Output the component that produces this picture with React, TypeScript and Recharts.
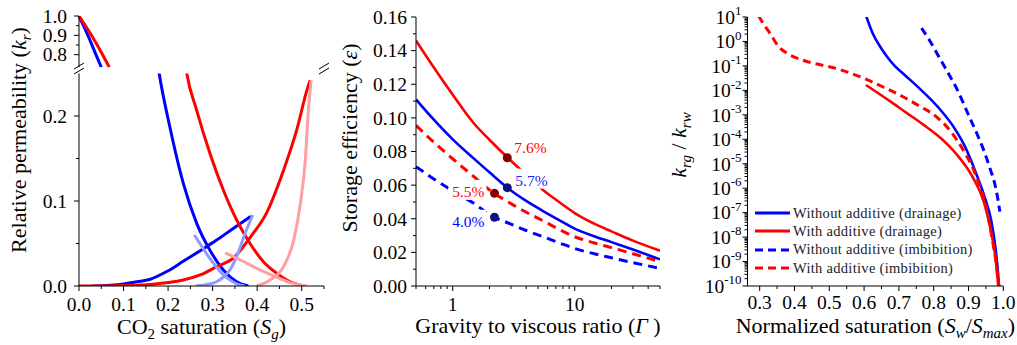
import React from "react";
import { LineChart, Line, XAxis, YAxis, Legend } from "recharts";

const W = 1017;
const H = 345;
const FONT = "Liberation Serif, Tinos, Times New Roman, DejaVu Serif, serif";
const INK = "#000";
const TICK_FS = 19.5;
const TITLE_FS = 22;

const BLUE = "#0000FF";
const RED = "#FF0000";
const LIGHT_BLUE = "#8C9BFF";
const PINK = "#FFA0A0";
const DARK_RED = "#870000";
const DARK_BLUE = "#12127D";

// ---- (a) relative permeability vs CO2 saturation, [Sg, kr]
const aUpperBlue = [[0, 1.0], [0.02, 0.9], [0.038, 0.8], [0.05, 0.735]];
const aUpperRed = [[0, 1.0], [0.028, 0.9], [0.053, 0.8], [0.068, 0.735]];
const aBlueWater = [[0.177, 0.26], [0.18, 0.25], [0.204, 0.187], [0.234, 0.121], [0.264, 0.074], [0.294, 0.042], [0.324, 0.0188], [0.354, 0.005], [0.38, 0]];
const aBlueGas = [[0.03, 0], [0.07, 0.001], [0.1, 0.0025], [0.13, 0.005], [0.16, 0.008], [0.197, 0.017], [0.234, 0.029], [0.272, 0.0415], [0.309, 0.054], [0.347, 0.068], [0.386, 0.082]];
const aLightBlueWater = [[0.259, 0.06], [0.275, 0.047], [0.291, 0.0345], [0.306, 0.024], [0.321, 0.0149], [0.338, 0.0075], [0.354, 0.0024], [0.372, 0]];
const aLightBlueGas = [[0.262, 0], [0.29, 0.002], [0.309, 0.005], [0.323, 0.01], [0.336, 0.0168], [0.354, 0.0345], [0.373, 0.062], [0.39, 0.0835]];
const aRedWater = [[0.239, 0.26], [0.242, 0.25], [0.264, 0.207], [0.294, 0.156], [0.324, 0.113], [0.354, 0.0776], [0.384, 0.05], [0.414, 0.0286], [0.444, 0.0149], [0.474, 0.005], [0.497, 0.001], [0.505, 0]];
const aRedGas = [[0, 0], [0.05, 0.0001], [0.1, 0.0006], [0.16, 0.0018], [0.2, 0.004], [0.234, 0.007], [0.272, 0.013], [0.309, 0.0227], [0.347, 0.033], [0.384, 0.057], [0.422, 0.087], [0.459, 0.136], [0.489, 0.184], [0.512, 0.231], [0.519, 0.242]];
const aPinkWater = [[0.328, 0.039], [0.362, 0.0306], [0.399, 0.0208], [0.437, 0.0118], [0.474, 0.0039], [0.512, 0]];
const aPinkGas = [[0.399, 0], [0.429, 0.007], [0.459, 0.0227], [0.482, 0.054], [0.497, 0.097], [0.508, 0.148], [0.515, 0.207], [0.521, 0.242]];

const aXTicks = [0, 0.05, 0.1, 0.15, 0.2, 0.25, 0.3, 0.35, 0.4, 0.45, 0.5, 0.55];
const aXLabels = [0, 0.1, 0.2, 0.3, 0.4, 0.5];
const aUpperYTicks = [0.8, 0.85, 0.9, 0.95, 1.0];
const aUpperYLabels = [0.8, 0.9, 1.0];
const aLowerYTicks = [0, 0.05, 0.1, 0.15, 0.2];
const aLowerYLabels = [0, 0.1, 0.2];

// ---- (b) storage efficiency vs gravity to viscous ratio
const bGamma = [0.5, 0.7, 1, 1.5, 2, 3, 4, 5.5, 7.5, 10, 15, 20, 30, 50];
const bRedSolid = [0.146, 0.13, 0.1138, 0.0965, 0.087, 0.0745, 0.0662, 0.0571, 0.0498, 0.0434, 0.0365, 0.0325, 0.027, 0.021];
const bBlueSolid = [0.111, 0.0989, 0.0872, 0.0756, 0.0676, 0.0568, 0.0506, 0.0446, 0.0391, 0.0341, 0.0292, 0.0261, 0.0217, 0.0159];
const bRedDashed = [0.0955, 0.0855, 0.0756, 0.0649, 0.0572, 0.049, 0.0439, 0.0388, 0.0335, 0.0293, 0.0253, 0.0228, 0.0192, 0.0145];
const bBlueDashed = [0.071, 0.0637, 0.0566, 0.049, 0.0425, 0.0368, 0.033, 0.0293, 0.0256, 0.0223, 0.0189, 0.0168, 0.0139, 0.0105];
const bMarkGamma = [2.8, 2.8, 2.2, 2.2];
const bMarkEff = [0.0763, 0.0585, 0.0551, 0.0409];
const bMarkText = ["7.6%", "5.7%", "5.5%", "4.0%"];

const bXTicks = [0.5, 0.6, 0.7, 0.8, 0.9, 1, 2, 3, 4, 5, 6, 7, 8, 9, 10, 20, 30, 40, 50];
const bXLabels = [1, 10];
const bYTicks = [0, 0.01, 0.02, 0.03, 0.04, 0.05, 0.06, 0.07, 0.08, 0.09, 0.1, 0.11, 0.12, 0.13, 0.14, 0.15, 0.16];
const bYLabels = [0, 0.02, 0.04, 0.06, 0.08, 0.1, 0.12, 0.14, 0.16];

// ---- (c) krg/krw vs normalized saturation
const cWithoutDrain = [[0.6, 20], [0.607, 10], [0.615, 4.8], [0.625, 2.1], [0.637, 1.0], [0.65, 0.5], [0.665, 0.25], [0.688, 0.1], [0.715, 0.0447], [0.765, 0.01], [0.812, 2.1e-3], [0.86, 2.8e-4], [0.89, 5.0e-5], [0.918, 5.6e-6], [0.946, 4.5e-7], [0.965, 5.0e-8], [0.978, 3.2e-9], [0.987, 1.4e-10], [0.989, 5e-11]];
const cWithDrain = [[0.605, 1.66e-2], [0.67, 3.98e-3], [0.72, 1.26e-3], [0.77, 3.98e-4], [0.82, 1.12e-4], [0.865, 2.5e-5], [0.91, 3.16e-6], [0.945, 2.5e-7], [0.965, 1.6e-8], [0.978, 1.26e-9], [0.986, 8e-11]];
const cWithoutImb = [[0.765, 3.5], [0.79, 1.0], [0.812, 0.28], [0.84, 0.056], [0.865, 0.0126], [0.9, 1e-3], [0.925, 1.6e-4], [0.945, 3.2e-5], [0.962, 6.3e-6], [0.975, 1.6e-6], [0.985, 3.2e-7], [0.99, 1.1e-7]];
const cWithImb = [[0.297, 11.2], [0.305, 7.1], [0.33, 2.1], [0.355, 0.6], [0.38, 0.32], [0.425, 0.17], [0.525, 0.075], [0.607, 0.028], [0.66, 0.0126], [0.712, 5.5e-3], [0.76, 2.24e-3], [0.808, 8.3e-4], [0.85, 2.0e-4], [0.885, 3.6e-5], [0.91, 7.9e-6], [0.933, 1.15e-6], [0.95, 2.0e-7], [0.962, 2.6e-8], [0.972, 4.0e-9], [0.981, 6.3e-10], [0.988, 8e-11]];
const cNames = ["Without additive (drainage)", "With additive (drainage)", "Without additive (imbibition)", "With additive (imbibition)"];

const cXTicks = [0.3, 0.35, 0.4, 0.45, 0.5, 0.55, 0.6, 0.65, 0.7, 0.75, 0.8, 0.85, 0.9, 0.95, 1.0];
const cXLabels = [0.3, 0.4, 0.5, 0.6, 0.7, 0.8, 0.9, 1.0];
const cDecades = [-10, -9, -8, -7, -6, -5, -4, -3, -2, -1, 0, 1];

// layout of the plot boxes
const PA = { left: 79, right: 324, upTop: 16, upBottom: 67.25, loTop: 73.5, bottom: 286 };
const PB = { left: 416, right: 660, top: 17, bottom: 286 };
const PC = { left: 747.5, right: 1003.3, top: 17, bottom: 286 };
const YW = 50;
const XH = 40;

const pts = (arr: number[][]) => arr.map(([x, y]) => ({ x, y }));
const zip = (xs: number[], ys: number[]) => xs.map((x, i) => ({ x, y: ys[i] }));

const cYTicks: number[] = [];
cDecades.forEach((d) => {
  cYTicks.push(10 ** d);
  if (d < 1) [2, 3, 4, 5, 6, 7, 8, 9].forEach((m) => cYTicks.push(m * 10 ** d));
});

function isMajor(v: number, majors: number[]) {
  return majors.some((m) => Math.abs(v - m) <= 1e-6 * Math.max(Math.abs(m), 1e-12));
}

const bottomTick = (majors: number[], fmt: (v: number) => string, dy: number) => (p: any) => {
  const v = p.payload.value;
  const major = isMajor(v, majors);
  return (
    <g>
      <line x1={p.x} x2={p.x} y1={p.y} y2={p.y + (major ? 5 : 3)} stroke={INK} />
      {major && (
        <text x={p.x} y={p.y + dy} textAnchor="middle" fontFamily={FONT} fontSize={TICK_FS} fill={INK}>
          {fmt(v)}
        </text>
      )}
    </g>
  );
};

const leftTick = (majors: number[], fmt: (v: number) => string, gap: number) => (p: any) => {
  const v = p.payload.value;
  const major = isMajor(v, majors);
  return (
    <g>
      <line x1={p.x - (major ? 5 : 3)} x2={p.x} y1={p.y} y2={p.y} stroke={INK} />
      {major && (
        <text x={p.x - gap} y={p.y + 6.8} textAnchor="end" fontFamily={FONT} fontSize={TICK_FS} fill={INK}>
          {fmt(v)}
        </text>
      )}
    </g>
  );
};

const logLeftTick = (p: any) => {
  const v = p.payload.value;
  const e = Math.round(Math.log10(v));
  const major = Math.abs(v - 10 ** e) < 1e-6 * 10 ** e;
  return (
    <g>
      <line x1={p.x - (major ? 5 : 3)} x2={p.x} y1={p.y} y2={p.y} stroke={INK} />
      {major && (
        <text x={p.x - 6} y={p.y + 6.8} textAnchor="end" fontFamily={FONT} fontSize={19.5} fill={INK}>
          <tspan>10</tspan>
          <tspan dy={-8.5} fontSize={13}>{e}</tspan>
        </text>
      )}
    </g>
  );
};

function Title({ x, y, rotate, children }: { x: number; y: number; rotate?: boolean; children: React.ReactNode }) {
  return (
    <text
      x={x}
      y={y}
      textAnchor="middle"
      fontFamily={FONT}
      fontSize={TITLE_FS}
      fill={INK}
      transform={rotate ? `rotate(-90 ${x} ${y})` : undefined}
    >
      {children}
    </text>
  );
}

const panelTag = (text: string, x: number, y: number) => () => (
  <text x={x} y={y} textAnchor="end" fontFamily={FONT} fontSize={21} fill={INK}>
    {text}
  </text>
);

const markLook = [
  { dot: DARK_RED, ink: RED, dx: 7, dy: -5, anchor: "start" },
  { dot: DARK_BLUE, ink: "#2424F0", dx: 8, dy: -2, anchor: "start" },
  { dot: DARK_RED, ink: RED, dx: -10, dy: 3.5, anchor: "end" },
  { dot: DARK_BLUE, ink: BLUE, dx: -10, dy: 9.5, anchor: "end" },
];

// marker + percentage label on a white patch that hides the curves behind it
const markDot = (p: any) => {
  const i = p.index;
  const look = markLook[i];
  const w = 34;
  const tx = p.cx + look.dx;
  const left = look.anchor === "start" ? tx - 2 : tx - w - 2;
  return (
    <g key={`mark-${i}`}>
      <rect x={left} y={p.cy + look.dy - 17} width={w + 4} height={20} fill="#fff" />
      <circle cx={p.cx} cy={p.cy} r={4.5} fill={look.dot} />
      <text x={tx} y={p.cy + look.dy} textAnchor={look.anchor as any} fontFamily={FONT} fontSize={15.5} fill={look.ink}>
        {bMarkText[i]}
      </text>
    </g>
  );
};

const cStyles = [
  { color: BLUE, dash: undefined as string | undefined },
  { color: RED, dash: undefined as string | undefined },
  { color: BLUE, dash: "8 5" },
  { color: RED, dash: "8 5" },
];

function CLegend() {
  return (
    <div style={{ fontFamily: FONT, fontSize: 14.5, color: "#222", letterSpacing: 0.3 }}>
      {cNames.map((name, i) => (
        <div key={name} style={{ display: "flex", alignItems: "center", height: 18.33, whiteSpace: "nowrap" }}>
          <svg width={40} height={18} style={{ display: "block" }}>
            <line x1={2} x2={37} y1={9} y2={9} stroke={cStyles[i].color} strokeWidth={3} strokeDasharray={cStyles[i].dash} />
          </svg>
          <span>{name}</span>
        </div>
      ))}
    </div>
  );
}

const lineProps = { dot: false, activeDot: false, isAnimationActive: false, type: "monotone" as const, dataKey: "y" };

function Layer({ children }: { children: React.ReactNode }) {
  return <div style={{ position: "absolute", left: 0, top: 0 }}>{children}</div>;
}

export default function App() {
  const f1 = (v: number) => v.toFixed(1);
  const f2 = (v: number) => v.toFixed(2);
  return (
    <div style={{ position: "absolute", left: 0, top: 0, width: W, height: H, background: "#fff", fontFamily: FONT }}>
      {/* (a) upper part of the broken axis */}
      <Layer>
        <LineChart width={W} height={H} margin={{ top: PA.upTop, left: PA.left - YW, right: W - PA.right, bottom: H - PA.upBottom }}>
          <XAxis
            type="number"
            dataKey="x"
            orientation="top"
            height={0}
            domain={[0, 0.55]}
            tick={false}
            tickLine={false}
            stroke={INK}
            label={{ content: panelTag("(a)", PA.right - 12, PA.upTop + 22) }}
          />
          <YAxis
            type="number"
            width={YW}
            domain={[0.735, 1.0]}
            allowDataOverflow
            ticks={aUpperYTicks}
            interval={0}
            tickSize={0}
            tickMargin={0}
            tickLine={false}
            stroke={INK}
            tick={leftTick(aUpperYLabels, f1, 12)}
          />
          <YAxis yAxisId="r" orientation="right" width={0} type="number" domain={[0, 1]} tick={false} tickLine={false} stroke={INK} />
          <Line {...lineProps} data={pts(aUpperBlue)} stroke={BLUE} strokeWidth={3} />
          <Line {...lineProps} data={pts(aUpperRed)} stroke={RED} strokeWidth={3} />
        </LineChart>
      </Layer>

      {/* (a) lower part */}
      <Layer>
        <LineChart width={W} height={H} margin={{ top: PA.loTop, left: PA.left - YW, right: W - PA.right, bottom: H - PA.bottom - XH }}>
          <XAxis
            type="number"
            dataKey="x"
            height={XH}
            domain={[0, 0.55]}
            ticks={aXTicks}
            interval={0}
            tickSize={0}
            tickMargin={0}
            tickLine={false}
            stroke={INK}
            tick={bottomTick(aXLabels, f1, 25)}
            label={{
              content: () => (
                <Title x={(PA.left + PA.right) / 2} y={PA.bottom + 48}>
                  CO<tspan dy={5} fontSize={15}>2</tspan>
                  <tspan dy={-5}> saturation (</tspan>
                  <tspan fontStyle="italic">S</tspan>
                  <tspan dy={5} fontSize={15} fontStyle="italic">g</tspan>
                  <tspan dy={-5}>)</tspan>
                </Title>
              ),
            }}
          />
          <YAxis
            type="number"
            width={YW}
            domain={[0, 0.25]}
            allowDataOverflow
            ticks={aLowerYTicks}
            interval={0}
            tickSize={0}
            tickMargin={0}
            tickLine={false}
            stroke={INK}
            tick={leftTick(aLowerYLabels, f1, 12)}
            label={{
              content: () => (
                <Title x={26} y={140} rotate>
                  Relative permeability (<tspan fontStyle="italic">k</tspan>
                  <tspan dy={5} fontSize={15} fontStyle="italic">r</tspan>
                  <tspan dy={-5}>)</tspan>
                </Title>
              ),
            }}
          />
          <YAxis yAxisId="r" orientation="right" width={0} type="number" domain={[0, 1]} tick={false} tickLine={false} stroke={INK} />
          <Line {...lineProps} data={pts(aBlueWater)} stroke={BLUE} strokeWidth={3} />
          <Line {...lineProps} data={pts(aBlueGas)} stroke={BLUE} strokeWidth={3} />
          <Line {...lineProps} data={pts(aRedWater)} stroke={RED} strokeWidth={3} />
          <Line {...lineProps} data={pts(aRedGas)} stroke={RED} strokeWidth={3} />
          <Line {...lineProps} data={pts(aLightBlueWater)} stroke={LIGHT_BLUE} strokeWidth={3} />
          <Line {...lineProps} data={pts(aLightBlueGas)} stroke={LIGHT_BLUE} strokeWidth={3} />
          <Line {...lineProps} data={pts(aPinkWater)} stroke={PINK} strokeWidth={3} />
          <Line {...lineProps} data={pts(aPinkGas)} stroke={PINK} strokeWidth={3} />
        </LineChart>
      </Layer>

      {/* axis break marks of (a) */}
      <svg width={W} height={H} style={{ position: "absolute", left: 0, top: 0 }}>
        {[PA.left, PA.right].map((x) => (
          <g key={x} stroke={INK} strokeWidth={1}>
            <line x1={x - 5} y1={69} x2={x + 5} y2={63} />
            <line x1={x - 5} y1={74} x2={x + 5} y2={68} />
          </g>
        ))}
      </svg>

      {/* (b) */}
      <Layer>
        <LineChart width={W} height={H} margin={{ top: PB.top, left: PB.left - YW, right: W - PB.right, bottom: H - PB.bottom - XH }}>
          <XAxis
            type="number"
            dataKey="x"
            scale="log"
            height={XH}
            domain={[0.5, 50]}
            allowDataOverflow
            ticks={bXTicks}
            interval={0}
            tickSize={0}
            tickMargin={0}
            tickLine={false}
            stroke={INK}
            tick={bottomTick(bXLabels, (v) => String(v), 25)}
            label={{
              content: () => (
                <Title x={(PB.left + PB.right) / 2} y={PB.bottom + 47}>
                  Gravity to viscous ratio (<tspan fontStyle="italic">Γ</tspan> )
                </Title>
              ),
            }}
          />
          <XAxis
            xAxisId="t"
            type="number"
            orientation="top"
            height={0}
            domain={[0, 1]}
            tick={false}
            tickLine={false}
            stroke={INK}
            label={{ content: panelTag("(b)", PB.right - 10, PB.top + 27) }}
          />
          <YAxis
            type="number"
            width={YW}
            domain={[0, 0.16]}
            allowDataOverflow
            ticks={bYTicks}
            interval={0}
            tickSize={0}
            tickMargin={0}
            tickLine={false}
            stroke={INK}
            tick={leftTick(bYLabels, f2, 9)}
            label={{
              content: () => (
                <Title x={357} y={138} rotate>
                  Storage efficiency (<tspan fontStyle="italic">ε</tspan>)
                </Title>
              ),
            }}
          />
          <YAxis yAxisId="r" orientation="right" width={0} type="number" domain={[0, 1]} tick={false} tickLine={false} stroke={INK} />
          <Line {...lineProps} data={zip(bGamma, bBlueDashed)} stroke={BLUE} strokeWidth={3} strokeDasharray="9 6" />
          <Line {...lineProps} data={zip(bGamma, bRedDashed)} stroke={RED} strokeWidth={3} strokeDasharray="9 6" />
          <Line {...lineProps} data={zip(bGamma, bBlueSolid)} stroke={BLUE} strokeWidth={2.6} />
          <Line {...lineProps} data={zip(bGamma, bRedSolid)} stroke={RED} strokeWidth={2.6} />
          <Line {...lineProps} type="linear" data={zip(bMarkGamma, bMarkEff)} stroke="none" dot={markDot} />
        </LineChart>
      </Layer>

      {/* (c) */}
      <Layer>
        <LineChart width={W} height={H} margin={{ top: PC.top, left: PC.left - YW, right: W - PC.right, bottom: H - PC.bottom - XH }}>
          <XAxis
            type="number"
            dataKey="x"
            height={XH}
            domain={[0.265, 1.0]}
            allowDataOverflow
            ticks={cXTicks}
            interval={0}
            tickSize={0}
            tickMargin={0}
            tickLine={false}
            stroke={INK}
            tick={bottomTick(cXLabels, f1, 23)}
            label={{
              content: () => (
                <Title x={(PC.left + PC.right) / 2} y={PC.bottom + 47}>
                  Normalized saturation (<tspan fontStyle="italic">S</tspan>
                  <tspan dy={5} fontSize={15} fontStyle="italic">w</tspan>
                  <tspan dy={-5}>/</tspan>
                  <tspan fontStyle="italic">S</tspan>
                  <tspan dy={5} fontSize={15} fontStyle="italic">max</tspan>
                  <tspan dy={-5}>)</tspan>
                </Title>
              ),
            }}
          />
          <XAxis
            xAxisId="t"
            type="number"
            orientation="top"
            height={0}
            domain={[0, 1]}
            tick={false}
            tickLine={false}
            stroke={INK}
            label={{ content: panelTag("(c)", PC.right - 12, PC.top + 27) }}
          />
          <YAxis
            type="number"
            scale="log"
            width={YW}
            domain={[1e-10, 10]}
            allowDataOverflow
            ticks={cYTicks}
            interval={0}
            tickSize={0}
            tickMargin={0}
            tickLine={false}
            stroke={INK}
            tick={logLeftTick}
            label={{
              content: () => (
                <Title x={686} y={145} rotate>
                  <tspan fontStyle="italic">k</tspan>
                  <tspan dy={5} fontSize={15} fontStyle="italic">rg</tspan>
                  <tspan dy={-5}> / </tspan>
                  <tspan fontStyle="italic">k</tspan>
                  <tspan dy={5} fontSize={15} fontStyle="italic">rw</tspan>
                </Title>
              ),
            }}
          />
          <YAxis yAxisId="r" orientation="right" width={0} type="number" domain={[0, 1]} tick={false} tickLine={false} stroke={INK} />
          <Line {...lineProps} name={cNames[2]} data={pts(cWithoutImb)} stroke={BLUE} strokeWidth={3} strokeDasharray="8 5" />
          <Line {...lineProps} name={cNames[0]} data={pts(cWithoutDrain)} stroke={BLUE} strokeWidth={2.6} />
          <Line {...lineProps} name={cNames[1]} data={pts(cWithDrain)} stroke={RED} strokeWidth={2.6} />
          <Line {...lineProps} name={cNames[3]} data={pts(cWithImb)} stroke={RED} strokeWidth={3} strokeDasharray="8 5" />
          <Legend
            layout="vertical"
            align="center"
            verticalAlign="middle"
            wrapperStyle={{ left: 753, top: 204, width: 250, height: 74 }}
            content={() => <CLegend />}
          />
        </LineChart>
      </Layer>
    </div>
  );
}
